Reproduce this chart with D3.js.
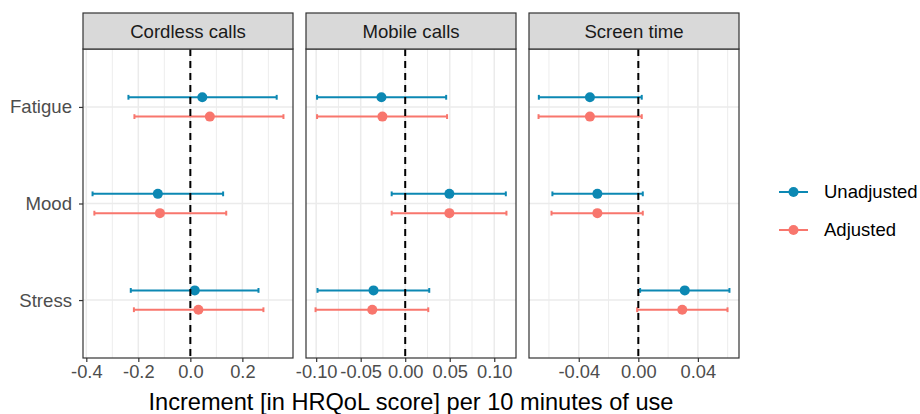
<!DOCTYPE html>
<html lang="en">
<head>
<meta charset="UTF-8">
<script src="https://cdnjs.cloudflare.com/ajax/libs/d3/7.8.5/d3.min.js"></script>
<style>
body{ margin:0; background:#fff; }
svg text{ font-family:"Liberation Sans", Arial, sans-serif; }
</style>
</head>
<body>
<div id="chart"></div>
<script>
/* global d3 */

// data
const outcomes = ['Fatigue', 'Mood', 'Stress'];
const exposures = ['Cordless calls', 'Mobile calls', 'Screen time'];
const seriesNames = ['Unadjusted', 'Adjusted'];

// estimates / lower / upper per outcome (Fatigue, Mood, Stress)
const cordlessUnadjEst = [0.046, -0.125, 0.017];
const cordlessUnadjLo  = [-0.238, -0.376, -0.229];
const cordlessUnadjHi  = [0.332, 0.126, 0.262];
const cordlessAdjEst   = [0.075, -0.117, 0.031];
const cordlessAdjLo    = [-0.215, -0.369, -0.217];
const cordlessAdjHi    = [0.358, 0.138, 0.281];

const mobileUnadjEst = [-0.0267, 0.0496, -0.0356];
const mobileUnadjLo  = [-0.099, -0.0152, -0.0985];
const mobileUnadjHi  = [0.046, 0.113, 0.027];
const mobileAdjEst   = [-0.0256, 0.0496, -0.037];
const mobileAdjLo    = [-0.099, -0.0152, -0.1007];
const mobileAdjHi    = [0.047, 0.1137, 0.0259];

const screenUnadjEst = [-0.0325, -0.0275, 0.0312];
const screenUnadjLo  = [-0.0668, -0.0577, 0.0012];
const screenUnadjHi  = [0.0023, 0.003, 0.0612];
const screenAdjEst   = [-0.0325, -0.0275, 0.0295];
const screenAdjLo    = [-0.067, -0.0583, -0.0008];
const screenAdjHi    = [0.0023, 0.003, 0.0599];

// tick values per panel
const cordlessTicks = [-0.4, -0.2, 0, 0.2];
const cordlessTickLabels = ['-0.4', '-0.2', '0.0', '0.2'];
const cordlessMinor = [-0.3, -0.1, 0.1, 0.3];
const mobileTicks = [-0.1, -0.05, 0, 0.05, 0.1];
const mobileTickLabels = ['-0.10', '-0.05', '0.00', '0.05', '0.10'];
const mobileMinor = [-0.075, -0.025, 0.025, 0.075];
const screenTicks = [-0.04, 0, 0.04];
const screenTickLabels = ['-0.04', '0.00', '0.04'];
const screenMinor = [-0.06, -0.02, 0.02, 0.06];

const xTitle = 'Increment [in HRQoL score] per 10 minutes of use';

const panels = [
  {name: exposures[0], ticks: cordlessTicks, labels: cordlessTickLabels, minor: cordlessMinor,
   series: [[cordlessUnadjEst, cordlessUnadjLo, cordlessUnadjHi], [cordlessAdjEst, cordlessAdjLo, cordlessAdjHi]]},
  {name: exposures[1], ticks: mobileTicks, labels: mobileTickLabels, minor: mobileMinor,
   series: [[mobileUnadjEst, mobileUnadjLo, mobileUnadjHi], [mobileAdjEst, mobileAdjLo, mobileAdjHi]]},
  {name: exposures[2], ticks: screenTicks, labels: screenTickLabels, minor: screenMinor,
   series: [[screenUnadjEst, screenUnadjLo, screenUnadjHi], [screenAdjEst, screenAdjLo, screenAdjHi]]}
];

const colors = {Unadjusted: '#0C88B3', Adjusted: '#F8766D'};

const w = 920, h = 414;
const left = 83, right = 739, gap = 13;
const pw = (right - left - 2 * gap) / 3;
const stripTop = 13, panelTop = 49, panelBottom = 358;
const ph = panelBottom - panelTop;

const svg = d3.select('#chart').append('svg').attr('width', w).attr('height', h);

// y scale: categories 1..3 with 0.6 expansion, Fatigue on top
const yScale = d3.scaleLinear().domain([0.4, 3.6]).range([0, ph]);
const dodge = {Unadjusted: -0.1, Adjusted: 0.1};

panels.forEach((p, pi) => {
  const x0 = left + pi * (pw + gap);
  const allVals = d3.merge(p.series.map(s => s[1].concat(s[2])));
  const lo = d3.min(allVals), hi = d3.max(allVals), pad = (hi - lo) * 0.05;
  const xScale = d3.scaleLinear().domain([lo - pad, hi + pad]).range([0, pw]);

  const g = svg.append('g').attr('transform', 'translate(' + x0 + ',' + panelTop + ')');

  // grid
  g.selectAll('.minor').data(p.minor.filter(v => v >= lo - pad && v <= hi + pad)).enter().append('line')
    .attr('x1', d => xScale(d)).attr('x2', d => xScale(d)).attr('y1', 0).attr('y2', ph)
    .attr('stroke', '#EDEDED').attr('stroke-width', 1);
  g.selectAll('.major').data(p.ticks).enter().append('line')
    .attr('x1', d => xScale(d)).attr('x2', d => xScale(d)).attr('y1', 0).attr('y2', ph)
    .attr('stroke', '#EBEBEB').attr('stroke-width', 1.5);
  g.selectAll('.hgrid').data(outcomes).enter().append('line')
    .attr('x1', 0).attr('x2', pw).attr('y1', (d, i) => yScale(i + 1)).attr('y2', (d, i) => yScale(i + 1))
    .attr('stroke', '#EBEBEB').attr('stroke-width', 1.5);

  // error bars and points
  seriesNames.forEach((sn, si) => {
    const [est, loV, hiV] = p.series[si];
    const rows = outcomes.map((o, i) => ({y: yScale(i + 1 + dodge[sn]), est: est[i], lo: loV[i], hi: hiV[i]}));
    const col = colors[sn];
    const eg = g.append('g');
    eg.selectAll('.bar').data(rows).enter().append('line')
      .attr('x1', d => xScale(d.lo)).attr('x2', d => xScale(d.hi)).attr('y1', d => d.y).attr('y2', d => d.y)
      .attr('stroke', col).attr('stroke-width', 2);
    eg.selectAll('.capl').data(rows).enter().append('line')
      .attr('x1', d => xScale(d.lo)).attr('x2', d => xScale(d.lo)).attr('y1', d => d.y - 2.4).attr('y2', d => d.y + 2.4)
      .attr('stroke', col).attr('stroke-width', 2);
    eg.selectAll('.capr').data(rows).enter().append('line')
      .attr('x1', d => xScale(d.hi)).attr('x2', d => xScale(d.hi)).attr('y1', d => d.y - 2.4).attr('y2', d => d.y + 2.4)
      .attr('stroke', col).attr('stroke-width', 2);
    eg.selectAll('circle').data(rows).enter().append('circle')
      .attr('cx', d => xScale(d.est)).attr('cy', d => d.y).attr('r', 5).attr('fill', col);
  });

  // zero reference line
  g.append('line').attr('x1', xScale(0)).attr('x2', xScale(0)).attr('y1', 0).attr('y2', ph)
    .attr('stroke', '#000').attr('stroke-width', 2).attr('stroke-dasharray', '7,5');

  // panel border
  g.append('rect').attr('x', 0).attr('y', 0).attr('width', pw).attr('height', ph)
    .attr('fill', 'none').attr('stroke', '#333333').attr('stroke-width', 1.2);

  // strip
  svg.append('rect').attr('x', x0).attr('y', stripTop).attr('width', pw).attr('height', panelTop - stripTop)
    .attr('fill', '#D9D9D9').attr('stroke', '#333333').attr('stroke-width', 1.2);
  svg.append('text').attr('x', x0 + pw / 2).attr('y', (stripTop + panelTop) / 2).attr('dy', '0.35em')
    .attr('text-anchor', 'middle').attr('font-size', 18.6).attr('fill', '#1A1A1A').text(p.name);

  // x axis
  const xAxis = d3.axisBottom(xScale).tickValues(p.ticks).tickSize(4).tickPadding(3)
    .tickFormat((d, i) => p.labels[i]);
  const ax = svg.append('g').attr('transform', 'translate(' + x0 + ',' + panelBottom + ')').call(xAxis);
  ax.select('.domain').remove();
  ax.selectAll('line').attr('stroke', '#333333').attr('stroke-width', 1.2);
  ax.selectAll('text').attr('font-size', 18.3).attr('fill', '#4D4D4D')
    .attr('font-family', '"Liberation Sans", Arial, sans-serif');
});

// y axis on first panel
const yAxis = d3.axisLeft(d3.scalePoint().domain(outcomes).range([yScale(1), yScale(3)]))
  .tickSize(4).tickPadding(7);
const ay = svg.append('g').attr('transform', 'translate(' + left + ',' + panelTop + ')').call(yAxis);
ay.select('.domain').remove();
ay.selectAll('line').attr('stroke', '#333333').attr('stroke-width', 1.2);
ay.selectAll('text').attr('font-size', 18.6).attr('fill', '#4D4D4D')
  .attr('font-family', '"Liberation Sans", Arial, sans-serif');

// x title
svg.append('text').attr('x', (left + right) / 2).attr('y', 410).attr('text-anchor', 'middle')
  .attr('font-size', 23.6).attr('fill', '#000').text(xTitle);

// legend
const legend = svg.append('g').attr('transform', 'translate(779,192)');
seriesNames.forEach((sn, i) => {
  const lg = legend.append('g').attr('transform', 'translate(0,' + i * 38 + ')');
  lg.append('line').attr('x1', 0).attr('x2', 29).attr('y1', 0).attr('y2', 0)
    .attr('stroke', colors[sn]).attr('stroke-width', 2);
  lg.append('circle').attr('cx', 14.5).attr('cy', 0).attr('r', 5).attr('fill', colors[sn]);
  lg.append('text').attr('x', 45).attr('y', 0).attr('dy', '0.35em').attr('font-size', 18.5)
    .attr('fill', '#000').text(sn);
});
</script>
</body>
</html>
